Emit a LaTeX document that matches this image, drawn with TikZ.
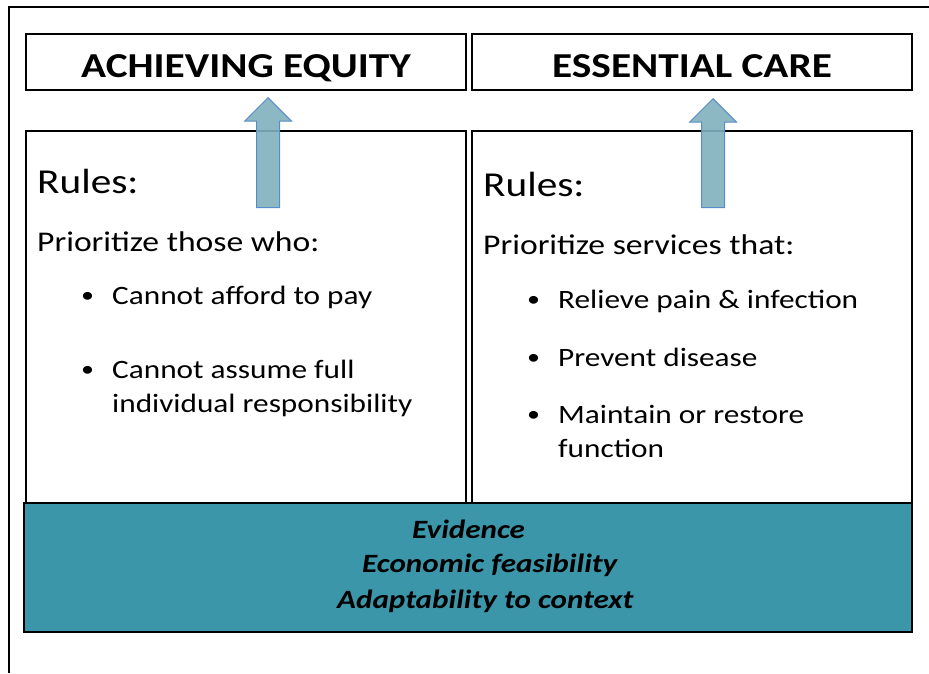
\documentclass[tikz,border=0pt]{standalone}
\usepackage{fontspec}
\setmainfont[FakeStretch=1.18]{Carlito}
\usetikzlibrary{positioning}
\definecolor{tealbar}{RGB}{60,150,170}
\definecolor{arrowfill}{RGB}{128,176,190}
\definecolor{arrowline}{RGB}{88,140,200}

\begin{document}
\begin{tikzpicture}[x=1pt,y=-1pt,
    titlebox/.style={draw,line width=1.4pt,minimum width=440pt,minimum height=56pt,inner sep=0pt,
        text height=31pt,text depth=0pt,font=\fontsize{35}{40}\selectfont\bfseries},
    rulebox/.style={draw,line width=1.4pt,minimum width=440pt,minimum height=372pt,inner sep=0pt},
    bigtxt/.style={anchor=base west,inner sep=0pt,font=\fontsize{35}{40}\selectfont},
    txt/.style={anchor=base west,inner sep=0pt,font=\fontsize{28.5}{34}\selectfont},
    item/.style={anchor=base west,inner sep=0pt,font=\fontsize{26.5}{34}\selectfont},
    dot/.style={anchor=base west,inner sep=0pt,font=\fontsize{22}{34}\selectfont},
    evtxt/.style={anchor=base west,inner sep=0pt,font=\fontsize{26.4}{32}\selectfont\bfseries\itshape},
    uparrow/.style={draw=arrowline,line width=1pt,fill=arrowfill,fill opacity=0.9,line join=miter}]
    \useasboundingbox (0,0) rectangle (929,673);
    % outer frame
    \draw[line width=1.2pt] (9,673) -- (9,7) -- (929,7);
    % boxes
    \node[rulebox] (ruleL) at (246,317) {};
    \node[rulebox] (ruleR) at (692,317) {};
    \node[titlebox] (titleL) at (246,62) {ACHIEVING EQUITY};
    \node[titlebox] (titleR) at (692,62) {ESSENTIAL CARE};
    \node[draw,line width=2pt,fill=tealbar,minimum width=888pt,minimum height=129pt,inner sep=0pt]
        (bar) at (468,567.5) {};
    % left rules
    \node[bigtxt] (rulesL) at (37,193) {Rules:};
    \node[txt] (prioL) at (37,251) {Prioritize those who:};
    \node[dot] at (81,302) {\textbullet};
    \node[item] (payL) at (112,304) {Cannot afford to pay};
    \node[dot] at (81,376) {\textbullet};
    \node[item] (fullL) at (112,378) {Cannot assume full};
    \node[item] (respL) at (112,412) {individual responsibility};
    % right rules
    \node[bigtxt] (rulesR) at (483,196) {Rules:};
    \node[txt] (prioR) at (483,254) {Prioritize services that:};
    \node[dot] at (527,306) {\textbullet};
    \node[item] (painR) at (558,308) {Relieve pain \& infection};
    \node[dot] at (527,364) {\textbullet};
    \node[item] (prevR) at (558,366) {Prevent disease};
    \node[dot] at (527,421) {\textbullet};
    \node[item] (maintR) at (558,423) {Maintain or restore};
    \node[item] (funcR) at (558,457) {function};
    % criteria
    \node[evtxt] (evid) at (412,538) {Evidence};
    \node[evtxt] (econ) at (362,572) {Economic feasibility};
    \node[evtxt] (adapt) at (337,608) {Adaptability to context};
    % arrows
    \coordinate (tipL) at ([xshift=22pt,yshift=-7pt]titleL.south);
    \coordinate (tipR) at ([xshift=21pt,yshift=-8pt]titleR.south);
    \draw[uparrow] (tipL) -- ++(23.5,23.5) -- ++(-12,0) -- ++(0,86.5) -- ++(-23,0)
        -- ++(0,-86.5) -- ++(-12,0) -- cycle;
    \draw[uparrow] (tipR) -- ++(23.5,23.5) -- ++(-12,0) -- ++(0,85.5) -- ++(-23,0)
        -- ++(0,-85.5) -- ++(-12,0) -- cycle;
\end{tikzpicture}
\end{document}
